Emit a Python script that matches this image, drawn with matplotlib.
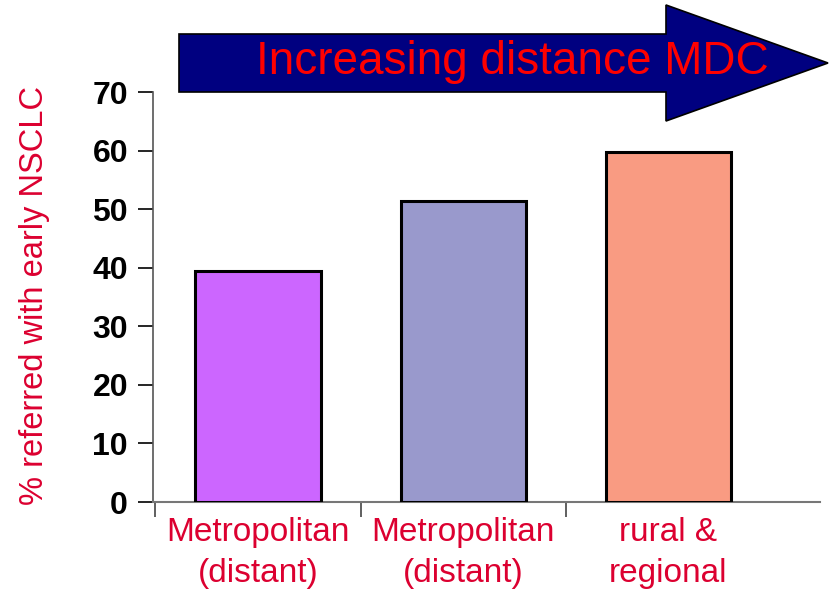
import matplotlib
matplotlib.use('Agg')
import matplotlib.pyplot as plt
from matplotlib.patches import Polygon
from matplotlib import font_manager

# data
categories = ['Metropolitan\n(distant)', 'Metropolitan\n(distant)', 'rural &\nregional']
values = [39.5, 51.4, 59.8]
bar_colors = ['#CC66FF', '#9999CC', '#F99B82']
yticks = [0, 10, 20, 30, 40, 50, 60, 70]

names = {f.name for f in font_manager.fontManager.ttflist}
narrow = 'Liberation Sans Narrow' if 'Liberation Sans Narrow' in names else 'Liberation Sans'
plt.rcParams['font.family'] = [narrow, 'DejaVu Sans']

red = '#DC0030'

fig = plt.figure(figsize=(8.3, 5.96), dpi=100)
ax = fig.add_axes([153 / 830, 1 - 502 / 596, (820 - 153) / 830, (502 - 92) / 596])

x = list(range(len(categories)))
ax.bar(x, values, width=0.61, color=bar_colors, edgecolor='black', linewidth=2.2, zorder=3)

ax.set_xlim(-0.512, 2.74)
ax.set_ylim(0, 70)
ax.set_yticks(yticks)
ax.set_yticklabels([str(v) for v in yticks], fontsize=23, fontweight='bold')
ax.tick_params(axis='y', length=11, width=1.2, pad=7, colors='black')

# category labels sit between separator ticks
ax.set_xticks(x)
ax.set_xticklabels(categories, fontsize=24, color=red, linespacing=1.4)
ax.tick_params(axis='x', length=0, pad=11)
ax.set_xticks([-0.5, 0.5, 1.5], minor=True)
ax.tick_params(axis='x', which='minor', length=11, width=1.2, color='#444444')

for s in ['top', 'right']:
    ax.spines[s].set_visible(False)
ax.spines['left'].set_color('#555555')
ax.spines['bottom'].set_color('#777777')
ax.spines['left'].set_linewidth(1.2)
ax.spines['bottom'].set_linewidth(1.5)

fig.text(35 / 830, 1 - 295 / 596, '% referred with early NSCLC', rotation=90,
         fontsize=23.5, color=red, ha='center', va='center')

# big arrow across the top
W, H = 830, 596
pts = [(179, 34), (666, 34), (666, 5), (828, 63), (666, 121), (666, 92), (179, 92)]
arrow = Polygon([(px / W, 1 - py / H) for px, py in pts], closed=True,
                transform=fig.transFigure, facecolor='#000080', edgecolor='black',
                linewidth=1.2, zorder=5)
fig.patches.append(arrow)
fig.text(512 / W, 1 - 62 / H, 'Increasing distance MDC', fontsize=33, color='#FF0000',
         ha='center', va='center', zorder=6)

fig.savefig('out.png', dpi=100)
